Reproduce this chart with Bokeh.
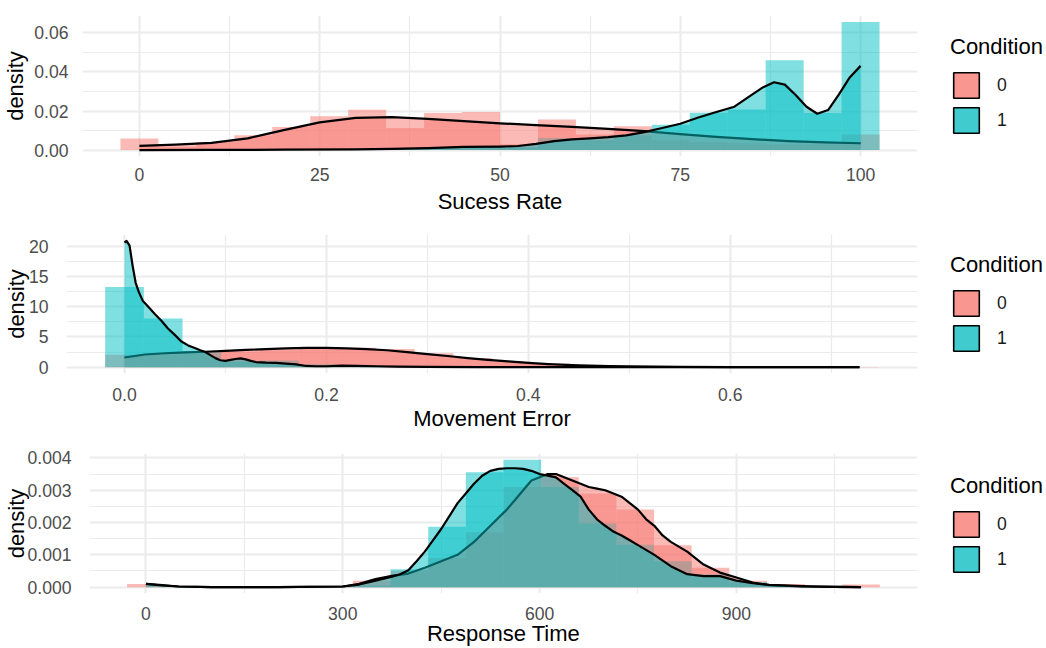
import numpy as np
from bokeh.plotting import figure
from bokeh.models import (Range1d, FixedTicker, PrintfTickFormatter, Legend, LegendItem,
                          ColumnDataSource)
from bokeh.layouts import row
from bokeh.embed import file_html
from bokeh.resources import INLINE

RED = "#F8766D"
TEAL = "#00BFC4"
KEY_RED = "#F9968F"
KEY_TEAL = "#40CCCF"
FONT = "Liberation Sans"
conditions = ["0", "1"]

# ---------------- Success Rate ----------------
sr_range = (0, 100)           # data min / max (20 bins)
sr_hist0 = [0.0059, 0.0017, 0.0042, 0.0076, 0.0118, 0.0173, 0.0207, 0.0113, 0.0190, 0.0195,
            0.0030, 0.0157, 0.0080, 0.0122, 0.0050, 0.0040, 0.0035, 0.0030, 0.0030, 0.0080]
sr_hist1 = [0.0, 0.0, 0.0, 0.0, 0.0, 0.0, 0.0, 0.0005, 0.0010, 0.0015,
            0.0015, 0.0062, 0.0050, 0.0076, 0.0130, 0.0191, 0.0208, 0.0460, 0.0190, 0.0656]
sr_d0_x = [0, 5, 10, 15, 20, 25, 30, 35, 40, 45, 50, 55, 60, 65, 70, 75, 80, 85, 90, 95, 100]
sr_d0_y = [0.0022, 0.0028, 0.0037, 0.0060, 0.0102, 0.0142, 0.0165, 0.0169, 0.0160, 0.0148, 0.0137,
           0.0128, 0.0119, 0.0109, 0.0097, 0.0082, 0.0068, 0.0056, 0.0046, 0.0039, 0.0035]
sr_d1_x = [0, 10, 20, 30, 35, 40, 45, 50, 52.5, 55, 57.5, 60, 62.5, 65, 67.5, 70, 72.5, 75, 77.5,
           80, 82.5, 85, 86.5, 88, 89.5, 91, 92.5, 94, 95.5, 97, 98.5, 100]
sr_d1_y = [0.0, 0.0001, 0.0002, 0.0004, 0.0006, 0.0010, 0.0016, 0.0018, 0.0021, 0.0032, 0.0046,
           0.0055, 0.0060, 0.0066, 0.0075, 0.0092, 0.0113, 0.0135, 0.0167, 0.0195, 0.0222, 0.0285,
           0.0322, 0.0347, 0.0335, 0.0282, 0.0222, 0.0186, 0.0205, 0.0285, 0.0372, 0.0431]

# ---------------- Movement Error ----------------
me_range = (0, 0.728)
me_hist0 = [2.05, 2.15, 2.3, 2.6, 2.8, 3.1, 3.2, 3.0, 2.3, 1.5, 0.9, 0.55, 0.3, 0.12, 0.06,
            0.03, 0.02, 0.01, 0.0, 0.02]
me_hist1 = [13.25, 8.05, 2.6, 0.9, 1.1, 0.5, 0.2, 0.15, 0.1, 0.05, 0.03, 0, 0, 0, 0, 0, 0, 0, 0, 0]
me_d0_x = [0.0, 0.02, 0.04, 0.06, 0.08, 0.10, 0.12, 0.14, 0.16, 0.18, 0.20, 0.22, 0.24, 0.26, 0.28,
           0.30, 0.32, 0.34, 0.36, 0.38, 0.40, 0.42, 0.45, 0.48, 0.50, 0.55, 0.60, 0.65, 0.728]
me_d0_y = [1.6, 2.1, 2.3, 2.45, 2.55, 2.7, 2.85, 3.0, 3.1, 3.2, 3.2, 3.1, 3.0, 2.8, 2.5, 2.15, 1.85,
           1.5, 1.2, 0.95, 0.7, 0.5, 0.3, 0.17, 0.12, 0.05, 0.02, 0.01, 0.005]
me_d1_x = [0.0, 0.002, 0.005, 0.008, 0.011, 0.014, 0.018, 0.024, 0.030, 0.037, 0.043, 0.050, 0.056,
           0.063, 0.069, 0.075, 0.080, 0.085, 0.090, 0.095, 0.100, 0.105, 0.110, 0.115, 0.120,
           0.125, 0.130, 0.140, 0.150, 0.160, 0.170, 0.180, 0.190, 0.200, 0.215, 0.230, 0.250,
           0.270, 0.300, 0.350, 0.400, 0.500, 0.600, 0.728]
me_d1_y = [20.6, 20.9, 20.1, 16.8, 14.0, 12.5, 11.0, 9.9, 8.8, 7.6, 6.4, 5.3, 4.3, 3.6, 3.2, 2.8,
           2.5, 2.0, 1.5, 1.15, 1.05, 1.2, 1.35, 1.45, 1.3, 1.05, 0.85, 0.75, 0.7, 0.6, 0.45, 0.2,
           0.15, 0.15, 0.25, 0.2, 0.15, 0.1, 0.05, 0.02, 0.01, 0.0, 0.0, 0.0]

# ---------------- Response Time ----------------
rt_range = (0, 1090)
rt_hist0 = [0.0001, 0, 0, 0, 0, 0.00003, 0.0002, 0.0005, 0.0009, 0.0017, 0.0031, 0.0034, 0.0029,
            0.0024, 0.0013, 0.0006, 0.0002, 0.0001, 0.00003, 0.00008]
rt_hist1 = [0, 0, 0, 0, 0, 0, 0.00005, 0.00055, 0.00187, 0.00356, 0.00394, 0.0031, 0.00197,
            0.00131, 0.0008, 0.0004, 0.00015, 0.00005, 0, 0]
rt_d0_x = [0, 25, 50, 100, 200, 300, 325, 350, 375, 400, 425, 450, 475, 500, 525, 550, 562.5, 575,
           587.5, 600, 612.5, 625, 637.5, 650, 662.5, 675, 687.5, 700, 712.5, 725, 737.5, 750,
           762.5, 775, 787.5, 800, 825, 850, 875, 900, 925, 950, 1000, 1050, 1090]
rt_d0_y = [0.0001, 0.00006, 0.00002, 0, 0, 0.00002, 0.0001, 0.00025, 0.00035, 0.00042, 0.0006,
           0.0008, 0.001, 0.0014, 0.0019, 0.0024, 0.0027, 0.003, 0.0033, 0.0034, 0.0035, 0.0035,
           0.0034, 0.0033, 0.0032, 0.0031, 0.00305, 0.003, 0.0029, 0.0028, 0.0026, 0.0024, 0.0021,
           0.0019, 0.0016, 0.0014, 0.0011, 0.0007, 0.00045, 0.0003, 0.00014, 0.00006, 0.00002,
           0.00001, 0.0]
rt_d1_x = [0, 25, 50, 100, 200, 300, 325, 350, 375, 387.5, 400, 412.5, 425, 437.5, 450, 462.5,
           475, 487.5, 500, 512.5, 525, 537.5, 550, 562.5, 575, 587.5, 600, 612.5, 625, 637.5,
           650, 662.5, 675, 687.5, 700, 712.5, 725, 737.5, 750, 775, 800, 825, 850, 875, 900,
           925, 950, 1000, 1050, 1090]
rt_d1_y = [0.0001, 0.00005, 0.00002, 0, 0, 0.00002, 0.00008, 0.0002, 0.00032, 0.0004, 0.00052,
           0.0008, 0.0011, 0.00145, 0.0018, 0.0022, 0.0026, 0.0029, 0.0032, 0.00345, 0.0036,
           0.00366, 0.00368, 0.00368, 0.00366, 0.0036, 0.0035, 0.00345, 0.0034, 0.0032, 0.003,
           0.0028, 0.0024, 0.0021, 0.0019, 0.00172, 0.0016, 0.00145, 0.0013, 0.001, 0.00065,
           0.0004, 0.00034, 0.00034, 0.0002, 0.00012, 0.00007, 0.00003, 0.00001, 0.0]

MAIN_W = 927


def panel(height, bl, bt, bb, rng, h0, h1, d0x, d0y, d1x, d1y, xt, xmt, xfmt, yt, ymt, yfmt,
          xlabel, ylab_so, yaxlab_so, xlab_so, xaxlab_so, leg_vy):
    n = len(h0)
    lo, hi = rng
    w = (hi - lo) / (n - 1)
    centers = np.linspace(lo, hi, n)
    span_lo, span_hi = lo - w / 2, hi + w / 2
    ex = 0.05 * (span_hi - span_lo)
    ymax = max(max(h0), max(h1), max(d0y), max(d1y))
    p = figure(width=MAIN_W, height=height, output_backend="svg", toolbar_location=None,
               x_range=Range1d(span_lo - ex, span_hi + ex),
               y_range=Range1d(-0.05 * ymax, 1.05 * ymax),
               min_border_left=bl, min_border_right=MAIN_W - 917, min_border_top=bt,
               min_border_bottom=bb)
    p.outline_line_color = None

    for h, col in ((h0, RED), (h1, TEAL)):
        src = ColumnDataSource(dict(left=centers - w / 2, right=centers + w / 2, top=h,
                                    bottom=[0] * n))
        p.quad(left="left", right="right", top="top", bottom="bottom", source=src,
               fill_color=col, fill_alpha=0.5, line_color=None)
    for dx, dy, col in ((d0x, d0y, RED), (d1x, d1y, TEAL)):
        src = ColumnDataSource(dict(x=dx, y=dy, z=[0] * len(dx)))
        p.varea(x="x", y1="z", y2="y", source=src, fill_color=col, fill_alpha=0.5)
        p.line(x="x", y="y", source=src, line_color="black", line_width=2.2,
               line_join="round")

    xt_ = FixedTicker(ticks=xt, minor_ticks=xmt)
    yt_ = FixedTicker(ticks=yt, minor_ticks=ymt)
    p.xaxis.ticker = xt_
    p.yaxis.ticker = yt_
    p.xgrid.ticker = xt_
    p.ygrid.ticker = yt_
    p.xaxis.formatter = PrintfTickFormatter(format=xfmt)
    p.yaxis.formatter = PrintfTickFormatter(format=yfmt)
    for g in (p.xgrid, p.ygrid):
        g.grid_line_color = "#EBEBEB"
        g.grid_line_width = 2
        g.minor_grid_line_color = "#EBEBEB"
        g.minor_grid_line_width = 1.2
    for ax in (p.xaxis, p.yaxis):
        ax.axis_line_color = None
        ax.major_tick_line_color = None
        ax.minor_tick_line_color = None
        ax.major_label_text_font = FONT
        ax.major_label_text_font_size = "17.6px"
        ax.major_label_text_color = "#4D4D4D"
        ax.axis_label_text_font = FONT
        ax.axis_label_text_font_size = "22px"
        ax.axis_label_text_font_style = "normal"
        ax.axis_label_text_color = "black"
    p.xaxis.axis_label = xlabel
    p.yaxis.axis_label = "density"
    p.yaxis.major_label_standoff = ylab_so
    p.yaxis.axis_label_standoff = yaxlab_so
    p.xaxis.major_label_standoff = xlab_so
    p.xaxis.axis_label_standoff = xaxlab_so

    # legend lives in its own narrow figure to the right of the panel
    lf = figure(width=1046 - MAIN_W, height=height, output_backend="svg", toolbar_location=None,
                x_range=Range1d(0, 1), y_range=Range1d(0, 1), x_axis_type=None,
                y_axis_type=None, min_border_left=0, min_border_right=0, min_border_top=bt,
                min_border_bottom=bb)
    lf.outline_line_color = None
    lf.xgrid.visible = False
    lf.ygrid.visible = False
    # key swatches: one off-range quad each, only so the legend has a glyph to draw
    keys = [lf.quad(left=[-3], right=[-2], top=[-2], bottom=[-3], fill_color=c,
                    line_color="black", line_width=1.6) for c in (KEY_RED, KEY_TEAL)]
    leg = Legend(items=[LegendItem(label=c, renderers=[r]) for c, r in zip(conditions, keys)],
                 location=(950 - MAIN_W, leg_vy), title="Condition")
    leg.title_text_font = FONT
    leg.title_text_font_size = "22px"
    leg.title_text_font_style = "normal"
    leg.title_text_color = "black"
    leg.title_standoff = 9
    leg.label_text_font = FONT
    leg.label_text_font_size = "17.6px"
    leg.label_text_color = "#1A1A1A"
    leg.glyph_width = 32
    leg.glyph_height = 32
    leg.label_height = 32
    leg.label_standoff = 15
    leg.spacing = 3
    leg.padding = 0
    leg.margin = 0
    leg.border_line_alpha = 0
    leg.background_fill_alpha = 0
    lf.add_layout(leg)
    return row(p, lf, spacing=0)


r1 = panel(216, 79, 15, 60, sr_range, sr_hist0, sr_hist1, sr_d0_x, sr_d0_y, sr_d1_x, sr_d1_y,
           [0, 25, 50, 75, 100], [12.5, 37.5, 62.5, 87.5], "%d",
           [0, 0.02, 0.04, 0.06], [0.01, 0.03, 0.05], "%.2f",
           "Sucess Rate", 8, 3, 5, 5, 20)
r2 = panel(217, 65, 18, 57, me_range, me_hist0, me_hist1, me_d0_x, me_d0_y, me_d1_x, me_d1_y,
           [0, 0.2, 0.4, 0.6], [0.1, 0.3, 0.5, 0.7], "%.1f",
           [0, 5, 10, 15, 20], [2.5, 7.5, 12.5, 17.5], "%d",
           "Movement Error", 12, -3, 8, 2, 19)
r3 = panel(215, 89, 20, 51, rt_range, rt_hist0, rt_hist1, rt_d0_x, rt_d0_y, rt_d1_x, rt_d1_y,
           [0, 300, 600, 900], [150, 450, 750, 1050], "%d",
           [0, 0.001, 0.002, 0.003, 0.004], [0.0005, 0.0015, 0.0025, 0.0035], "%.3f",
           "Response Time", 12, -5, 7, -2, 18)

open("out.html", "w").write(file_html([r1, r2, r3], INLINE))
